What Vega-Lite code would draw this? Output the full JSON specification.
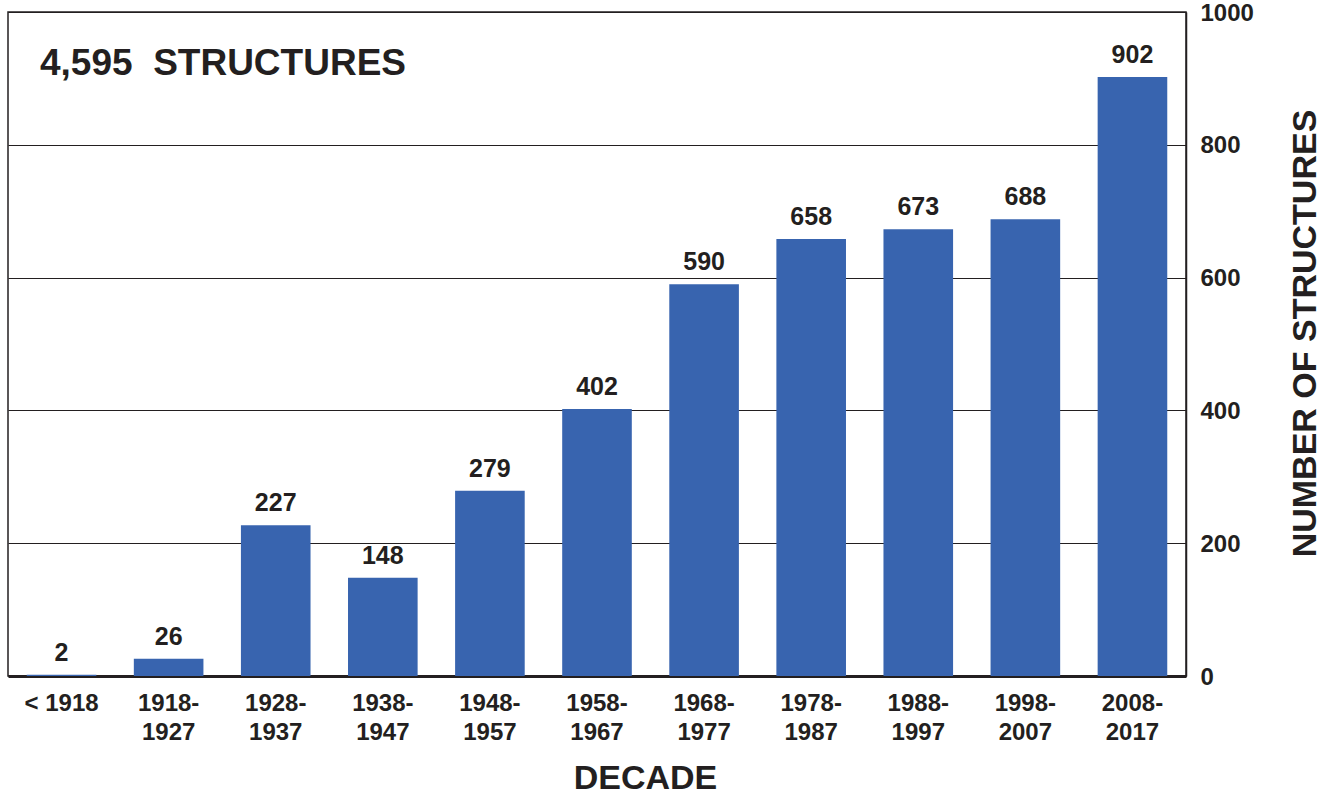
{
  "$schema": "https://vega.github.io/schema/vega-lite/v6.json",
  "width": 1178,
  "height": 664,
  "autosize": {"type": "none"},
  "padding": {"left": 8, "top": 12, "right": 152, "bottom": 122},
  "background": "white",
  "title": {
    "text": "4,595\u00a0\u00a0STRUCTURES",
    "anchor": "start",
    "orient": "top",
    "frame": "group",
    "font": "Liberation Sans",
    "fontWeight": "bold",
    "fontSize": 37,
    "color": "#231f20",
    "baseline": "middle",
    "offset": 0,
    "dx": 32,
    "dy": 100
  },
  "data": {
    "values": [
      {"decade": "< 1918", "count": 2},
      {"decade": "1918-1927", "count": 26},
      {"decade": "1928-1937", "count": 227},
      {"decade": "1938-1947", "count": 148},
      {"decade": "1948-1957", "count": 279},
      {"decade": "1958-1967", "count": 402},
      {"decade": "1968-1977", "count": 590},
      {"decade": "1978-1987", "count": 658},
      {"decade": "1988-1997", "count": 673},
      {"decade": "1998-2007", "count": 688},
      {"decade": "2008-2017", "count": 902}
    ]
  },
  "encoding": {
    "x": {
      "field": "decade",
      "type": "nominal",
      "sort": null,
      "scale": {"paddingInner": 0.35, "paddingOuter": 0.175},
      "axis": {
        "title": "DECADE",
        "titleFont": "Liberation Sans",
        "titleFontWeight": "bold",
        "titleFontSize": 34,
        "titleColor": "#231f20",
        "titleX": 637,
        "titleY": 102,
        "titleBaseline": "middle",
        "labelAngle": 0,
        "labelFont": "Liberation Sans",
        "labelFontWeight": "bold",
        "labelFontSize": 24,
        "labelColor": "#231f20",
        "labelPadding": 15,
        "labelLineHeight": 29,
        "labelExpr": "indexof(datum.value, '-') > 0 ? [slice(datum.value, 0, 5), slice(datum.value, 5)] : datum.value",
        "ticks": false,
        "domainColor": "#231f20",
        "domainWidth": 3,
        "grid": false
      }
    },
    "y": {
      "field": "count",
      "type": "quantitative",
      "scale": {"domain": [0, 1000], "nice": false},
      "axis": {
        "orient": "right",
        "values": [0, 200, 400, 600, 800, 1000],
        "format": "d",
        "title": "NUMBER OF STRUCTURES",
        "titleFont": "Liberation Sans",
        "titleFontWeight": "bold",
        "titleFontSize": 34,
        "titleColor": "#231f20",
        "titleAngle": 270,
        "titleX": 119,
        "titleY": 321,
        "titleAlign": "center",
        "titleBaseline": "middle",
        "labelFont": "Liberation Sans",
        "labelFontWeight": "bold",
        "labelFontSize": 24,
        "labelColor": "#231f20",
        "labelPadding": 14,
        "labelOffset": 1,
        "ticks": false,
        "domainColor": "#231f20",
        "domainWidth": 1.5,
        "grid": true,
        "gridColor": "#231f20",
        "gridWidth": 1,
        "gridOpacity": 1
      }
    }
  },
  "layer": [
    {"mark": {"type": "bar", "color": "#3864AF"}},
    {
      "mark": {
        "type": "text",
        "font": "Liberation Sans",
        "fontWeight": "bold",
        "fontSize": 25,
        "color": "#231f20",
        "baseline": "alphabetic",
        "dy": -14
      },
      "encoding": {"text": {"field": "count", "type": "quantitative"}}
    }
  ],
  "config": {
    "view": {"stroke": "#231f20", "strokeWidth": 1.5}
  }
}
